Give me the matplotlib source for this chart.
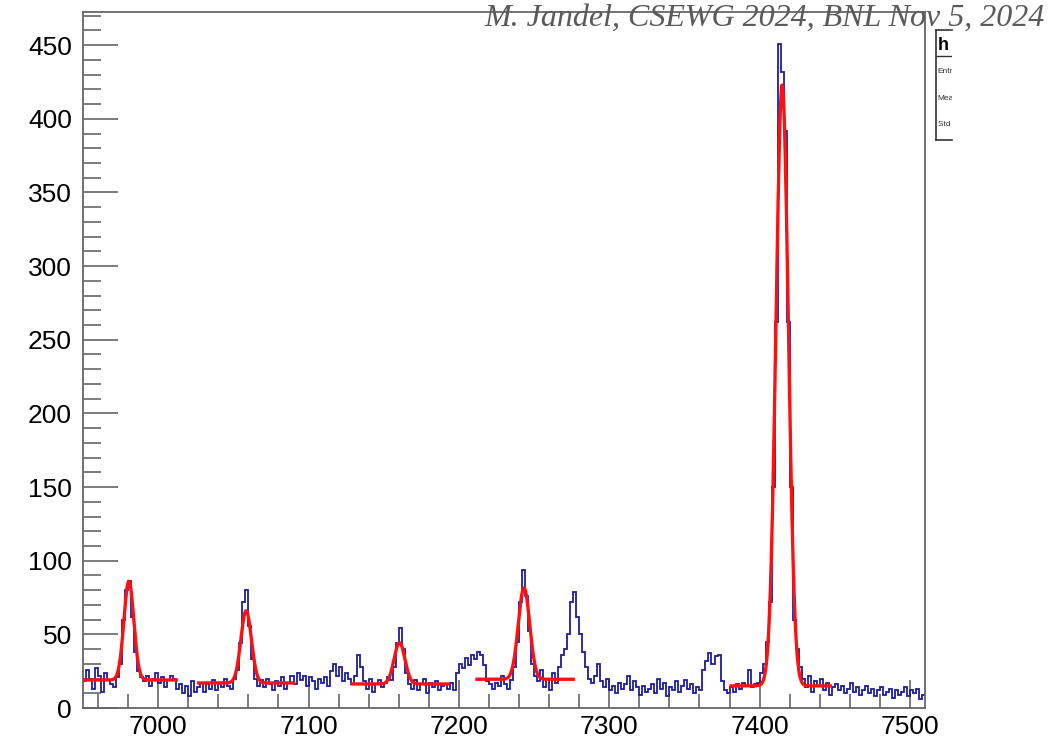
import numpy as np
import matplotlib
matplotlib.use("Agg")
import matplotlib.pyplot as plt
from matplotlib.ticker import MultipleLocator

# histogram: 2-unit bins from 6950 to 7510
BIN_START = 6950
BIN_WIDTH = 2
counts = [
    18, 26, 20, 13, 27, 22, 11, 24, 19, 16,      # 6950
    14, 21, 30, 60, 80, 86, 62, 38, 25, 21,      # 6970
    18, 22, 15, 20, 24, 17, 21, 14, 19, 22,      # 6990
    20, 13, 16, 10, 15, 8, 18, 11, 14, 17,       # 7010
    11, 16, 13, 19, 12, 17, 14, 20, 15, 13,      # 7030
    20, 26, 44, 72, 80, 56, 33, 20, 15, 19,      # 7050
    14, 20, 16, 12, 18, 15, 21, 13, 17, 22,      # 7070
    16, 24, 19, 22, 15, 21, 18, 13, 20, 17,      # 7090
    21, 15, 25, 30, 22, 28, 18, 24, 20, 16,      # 7110
    22, 36, 28, 18, 13, 20, 11, 16, 19, 14,      # 7130
    17, 21, 19, 28, 44, 54, 40, 24, 16, 13,      # 7150
    19, 12, 16, 20, 10, 17, 14, 18, 12, 15,      # 7170
    16, 13, 17, 12, 24, 30, 27, 34, 29, 36,      # 7190
    33, 38, 36, 29, 18, 16, 13, 17, 15, 22,      # 7210
    16, 13, 19, 28, 45, 72, 94, 76, 52, 30,      # 7230
    22, 18, 26, 14, 20, 12, 24, 17, 28, 36,      # 7250
    40, 50, 72, 79, 62, 50, 38, 28, 20, 17,      # 7270
    22, 30, 18, 14, 20, 12, 15, 10, 17, 13,      # 7290
    16, 22, 12, 18, 14, 9, 15, 11, 13, 16,       # 7310
    10, 20, 13, 17, 8, 14, 12, 18, 11, 15,       # 7330
    19, 13, 16, 10, 14, 12, 26, 32, 37, 30,      # 7350
    35, 36, 18, 12, 10, 14, 11, 16, 13, 17,      # 7370
    15, 26, 14, 16, 17, 24, 30, 45, 72, 150,     # 7390
    262, 451, 432, 392, 262, 150, 60, 40, 28, 20,  # 7410
    14, 22, 11, 18, 15, 20, 12, 17, 9, 14,       # 7430
    16, 12, 15, 10, 13, 17, 11, 14, 9, 12,       # 7450
    15, 10, 13, 8, 12, 14, 9, 11, 13, 7,         # 7470
    12, 9, 11, 14, 8, 12, 10, 13, 6, 9,          # 7490
]

# gaussian + constant fits: centre, sigma, amplitude, background, range
fitCentres = [6980.5, 7058.5, 7160.5, 7243.3, 7415.0]
fitSigmas = [3.3, 3.5, 3.6, 3.8, 4.1]
fitAmps = [67, 49, 28, 62, 408]
fitBkg = [19, 17, 16.3, 19.5, 15]
fitLo = [6951, 7027, 7129, 7212, 7381]
fitHi = [7012, 7090, 7193, 7276, 7447]

xTickLabels = ['7000', '7100', '7200', '7300', '7400', '7500']

W, H = 1058, 744
fig = plt.figure(figsize=(W / 100, H / 100), dpi=100)
ax = fig.add_axes([83 / W, (H - 708) / H, 842 / W, 696 / H])

edges = BIN_START + BIN_WIDTH * np.arange(len(counts) + 1)
ax.stairs(counts, edges, color='#1c1ca0', lw=1.3, baseline=None, zorder=2)

for c, s, a, b, lo, hi in zip(fitCentres, fitSigmas, fitAmps, fitBkg, fitLo, fitHi):
    xx = np.linspace(lo, hi, 400)
    yy = b + a * np.exp(-0.5 * ((xx - c) / s) ** 2)
    ax.plot(xx, yy, color='#ff1010', lw=2.4, zorder=3)

ax.set_xlim(6950, 7510)
ax.set_ylim(0, 472.5)

ax.xaxis.set_major_locator(MultipleLocator(100))
ax.xaxis.set_minor_locator(MultipleLocator(20))
ax.yaxis.set_major_locator(MultipleLocator(50))
ax.yaxis.set_minor_locator(MultipleLocator(10))
ax.set_xticks([int(t) for t in xTickLabels])
ax.set_xticklabels(xTickLabels)

for sp in ax.spines.values():
    sp.set_color('#666666')
    sp.set_linewidth(1.3)

ax.tick_params(axis='both', which='both', direction='in', color='#666666',
               width=1.2, labelsize=19, top=False, right=False)
ax.tick_params(axis='y', which='major', length=25, pad=8)
ax.tick_params(axis='y', which='minor', length=13)
ax.tick_params(axis='x', which='major', length=20, pad=5)
ax.tick_params(axis='x', which='minor', length=10)
for lab in ax.get_xticklabels() + ax.get_yticklabels():
    lab.set_fontfamily('Liberation Sans')

# stats box, cut at the right
sx = fig.add_axes([936 / W, (H - 140) / H, 16 / W, 110 / H])
sx.set_xticks([])
sx.set_yticks([])
sx.set_xlim(0, 1)
sx.set_ylim(0, 1)
sx.spines['right'].set_visible(False)
for k in ['left', 'top', 'bottom']:
    sx.spines[k].set_color('#333333')
    sx.spines[k].set_linewidth(1.2)
sx.axhline(0.76, color='#333333', lw=1.0)
sx.text(0.1, 0.86, 'h', fontsize=13, fontweight='bold', va='center',
        family='Liberation Sans', clip_on=True)
for yy, txt in zip([0.62, 0.38, 0.14], ['Entries', 'Mean', 'Std Dev']):
    sx.text(0.1, yy, txt, fontsize=6, va='center', family='Liberation Sans',
            clip_on=True, color='#333333')

fig.text(1045 / W, (H - 26) / H, 'M. Jandel, CSEWG 2024, BNL Nov 5, 2024',
         ha='right', va='baseline', fontsize=23, style='italic',
         family='Liberation Serif', color='#5a5a5a')

fig.savefig('out.png', dpi=100)
